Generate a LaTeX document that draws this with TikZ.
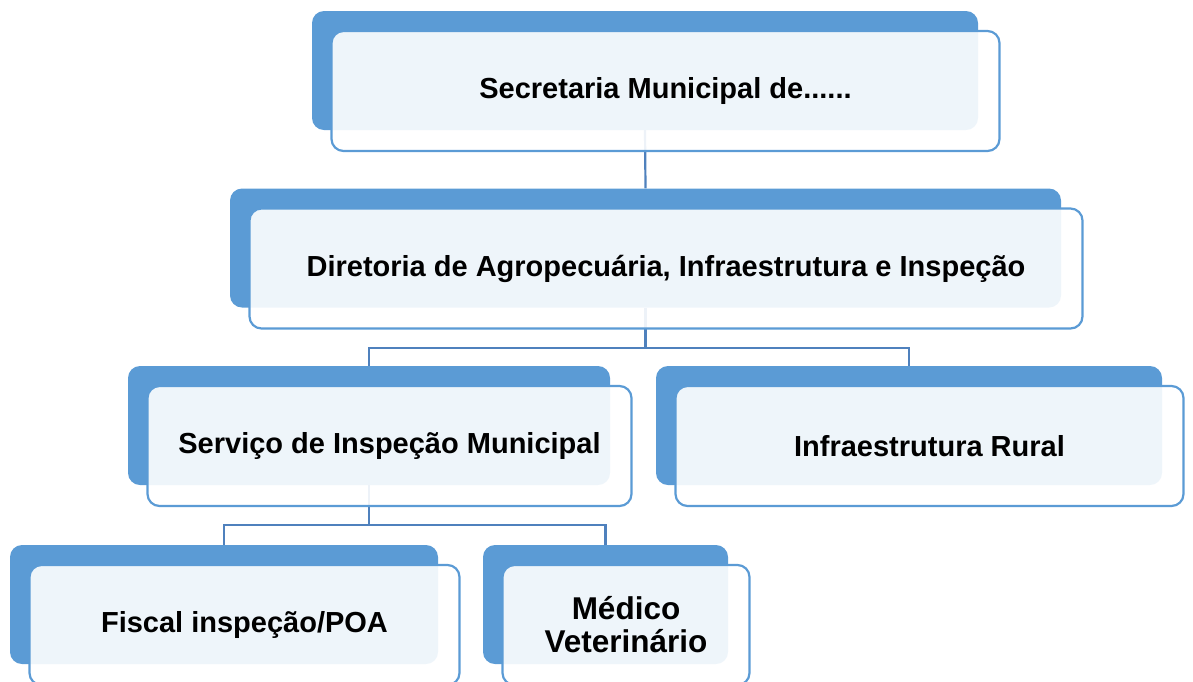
\documentclass[tikz,border=0pt]{standalone}
\usepackage{fontspec}
\setmainfont{Liberation Sans}
\usepackage{tikz}
\usetikzlibrary{positioning,backgrounds,calc}

\definecolor{boxblue}{RGB}{91,155,213}
\definecolor{edgeblue}{RGB}{91,155,213}
\definecolor{lineblue}{RGB}{79,129,189}

\newcommand\orgfont{\bfseries\fontsize{29}{34}\selectfont}
\newcommand\orgbigfont{\bfseries\fontsize{31.5}{33}\selectfont}

\begin{document}
\begin{tikzpicture}[x=1pt, y=-1pt,
        backbox/.style={fill=boxblue, rounded corners=12pt, minimum height=119pt, inner sep=0pt},
        frontbox/.style={draw=edgeblue, line width=2.2pt, fill=white, fill opacity=0.9, text opacity=1,
            rounded corners=12pt, minimum height=120pt, inner sep=0pt, align=center, font=\orgfont},
        front of/.style={at={([shift={(20.5,20.5)}]#1.center)}},
        link/.style={draw=lineblue, line width=2.2pt}]
        \useasboundingbox (0,0) rectangle (1193,681);

        % back boxes
        \node[backbox, minimum width=666pt] (sec) at (645,70.5) {};
        \node[backbox, minimum width=831pt] (dir) at (645.5,248) {};
        \node[backbox, minimum width=482pt] (sim) at (369,425.5) {};
        \node[backbox, minimum width=506pt] (infra) at (909,425.5) {};
        \node[backbox, minimum width=428pt] (fiscal) at (224,604.5) {};
        \node[backbox, minimum width=245pt] (medico) at (605.5,604.5) {};

        % connectors
        \begin{scope}[on background layer]
            \draw[link] (sec.south) -- (dir.north);
            \draw[link] (dir.south) -- ++(0,40) coordinate (forkA) -| (sim.north);
            \draw[link] (forkA) -| (infra.north);
            \draw[link] (sim.south) -- ++(0,40) coordinate (forkB) -| (fiscal.north);
            \draw[link] (forkB) -| (medico.north);
        \end{scope}

        % front boxes
        \node[frontbox, minimum width=668pt, front of=sec] (secT) {Secretaria Municipal de......};
        \node[frontbox, minimum width=833pt, front of=dir] (dirT) {Diretoria de Agropecuária, Infraestrutura e Inspeção};
        \node[frontbox, minimum width=484pt, front of=sim] (simT) {Serviço de Inspeção Municipal};
        \node[frontbox, minimum width=508pt, front of=infra] (infraT) {Infraestrutura Rural};
        \node[frontbox, minimum width=430pt, front of=fiscal] (fiscalT) {Fiscal inspeção/POA};
        \node[frontbox, minimum width=247pt, front of=medico, font=\orgbigfont] (medicoT) {Médico\\Veterinário};
    \end{tikzpicture}
\end{document}
